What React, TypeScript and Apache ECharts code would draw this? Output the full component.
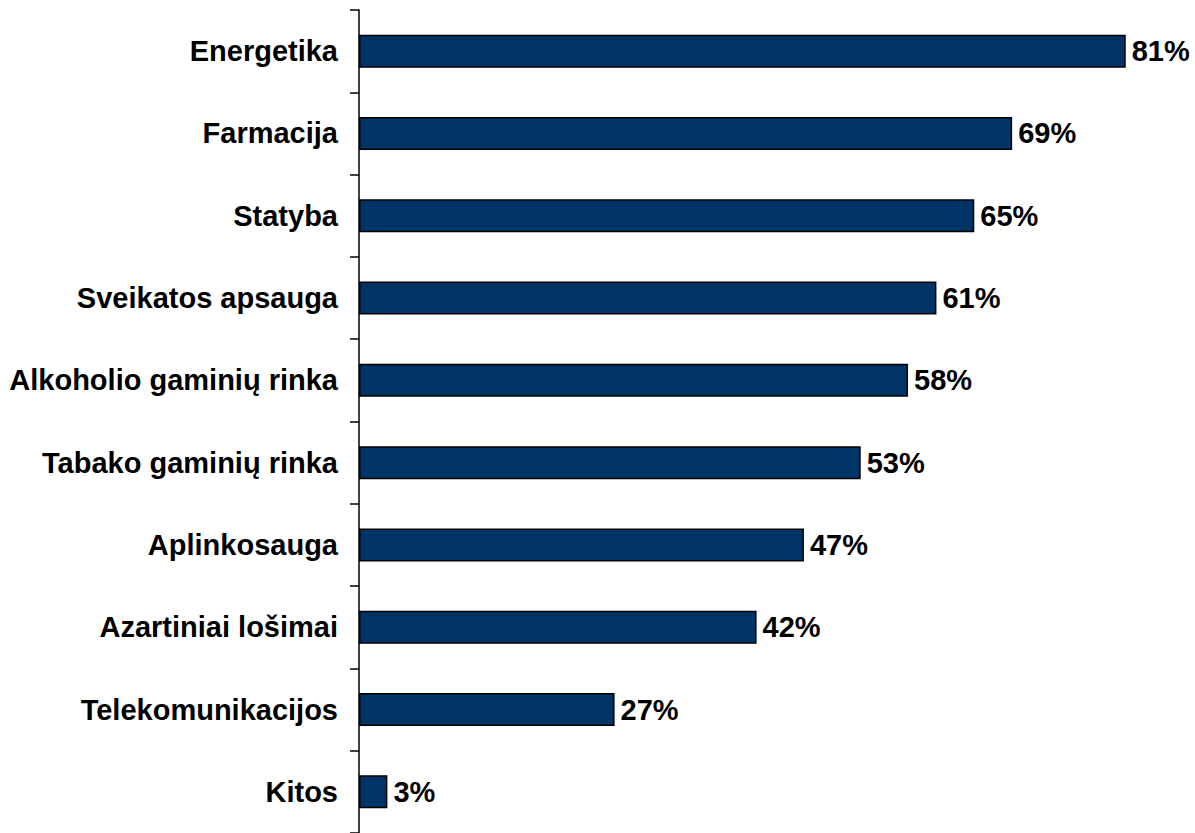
import React, { useEffect, useRef } from "react";
import * as echarts from "echarts";

const categories = [
  "Energetika",
  "Farmacija",
  "Statyba",
  "Sveikatos apsauga",
  "Alkoholio gaminių rinka",
  "Tabako gaminių rinka",
  "Aplinkosauga",
  "Azartiniai lošimai",
  "Telekomunikacijos",
  "Kitos",
];
const values = [81, 69, 65, 61, 58, 53, 47, 42, 27, 3];

const FONT = "'Liberation Sans', Arial, sans-serif";

export default function App() {
  const ref = useRef<HTMLDivElement>(null);
  useEffect(() => {
    if (!ref.current) return;
    const chart = echarts.init(ref.current, null, { renderer: "svg" });
    chart.setOption({
      animation: false,
      backgroundColor: "#ffffff",
      grid: { left: 359, right: 3, top: 10, bottom: 0, containLabel: false },
      xAxis: {
        type: "value",
        min: 0,
        max: 88,
        show: false,
      },
      yAxis: {
        type: "category",
        data: categories,
        inverse: true,
        axisLine: { show: true, lineStyle: { color: "#000", width: 1.5 } },
        axisTick: { show: true, length: 9, lineStyle: { color: "#000", width: 1.5 } },
        axisLabel: {
          margin: 21,
          color: "#000",
          fontFamily: FONT,
          fontWeight: "bold",
          fontSize: 29,
        },
        splitLine: { show: false },
      },
      series: [
        {
          type: "bar",
          data: values,
          barWidth: 33,
          itemStyle: { color: "#003366", borderColor: "#000", borderWidth: 1.5 },
          label: {
            show: true,
            position: "right",
            distance: 6,
            formatter: "{c}%",
            color: "#000",
            fontFamily: FONT,
            fontWeight: "bold",
            fontSize: 29,
          },
        },
      ],
    });
    return () => chart.dispose();
  }, []);
  return (
    <div
      ref={ref}
      style={{ position: "absolute", left: 0, top: 0, width: 1195, height: 833 }}
    />
  );
}
